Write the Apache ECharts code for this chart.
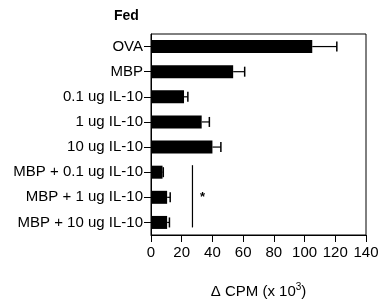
<!DOCTYPE html>
<html>
<head>
<meta charset="utf-8">
<script src="https://cdn.jsdelivr.net/npm/echarts@6/dist/echarts.min.js"></script>
<style>
  html, body { margin: 0; padding: 0; background: #fff; }
  #chart { width: 381px; height: 303px; }
</style>
</head>
<body>
<div id="chart"></div>
<script>
const categories = ['OVA', 'MBP', '0.1 ug IL-10', '1 ug IL-10', '10 ug IL-10',
  'MBP + 0.1 ug IL-10', 'MBP + 1 ug IL-10', 'MBP + 10 ug IL-10'];
const means = [105, 53.5, 21.5, 33, 40, 7.5, 10.5, 10.5];
const errors = [16, 7.5, 2.5, 5, 5.5, 0.5, 2, 1.5];
const xTicks = [0, 140, 20];
// significance bracket: x value, first and last category
const sigLine = [27, 'MBP + 0.1 ug IL-10', 'MBP + 10 ug IL-10'];

const font = 'Liberation Sans, Arial, sans-serif';
const chart = echarts.init(document.getElementById('chart'));

chart.setOption({
  animation: false,
  title: {
    text: 'Fed',
    left: 114,
    top: 9,
    padding: 0,
    textStyle: { fontFamily: font, fontSize: 14, fontWeight: 'bold', color: '#000' }
  },
  grid: {
    left: 151, right: 15, top: 34, bottom: 68,
    outerBoundsMode: 'none',
    show: true, borderColor: '#000', borderWidth: 1, backgroundColor: 'transparent'
  },
  xAxis: {
    type: 'value',
    min: xTicks[0], max: xTicks[1], interval: xTicks[2],
    splitLine: { show: false },
    axisLine: { show: true, lineStyle: { color: '#000', width: 1 } },
    axisTick: { show: true, length: 7, lineStyle: { color: '#000' } },
    axisLabel: { color: '#000', fontFamily: font, fontSize: 15, margin: 10 },
    name: '{a|Δ CPM (x 10}{s|3}{a|)}',
    nameLocation: 'middle',
    nameGap: 47,
    nameTextStyle: {
      rich: {
        a: { fontFamily: font, fontSize: 15, color: '#000' },
        s: { fontFamily: font, fontSize: 10, color: '#000', verticalAlign: 'top', padding: [0, 0, 9, 0] }
      }
    }
  },
  yAxis: {
    type: 'category',
    data: categories,
    inverse: true,
    axisLine: { show: true, lineStyle: { color: '#000', width: 1 } },
    axisTick: { show: true, alignWithLabel: true, length: 7, lineStyle: { color: '#000' } },
    axisLabel: { color: '#000', fontFamily: font, fontSize: 15, margin: 8 }
  },
  series: [
    {
      type: 'bar',
      data: means,
      barWidth: 13,
      itemStyle: { color: '#000' }
    },
    {
      type: 'custom',
      data: means.map((m, i) => [m, i, m + errors[i]]),
      renderItem: (params, api) => {
        const start = api.coord([api.value(0), api.value(1)]);
        const end = api.coord([api.value(2), api.value(1)]);
        const cap = 5;
        return {
          type: 'group',
          children: [
            { type: 'line', shape: { x1: start[0], y1: start[1], x2: end[0], y2: end[1] },
              style: { stroke: '#000', lineWidth: 1.2 } },
            { type: 'line', shape: { x1: end[0], y1: end[1] - cap, x2: end[0], y2: end[1] + cap },
              style: { stroke: '#000', lineWidth: 1.5 } }
          ]
        };
      },
      z: 3
    },
    {
      type: 'custom',
      data: [[sigLine[0], categories.indexOf(sigLine[1]), categories.indexOf(sigLine[2])]],
      renderItem: (params, api) => {
        const top = api.coord([api.value(0), api.value(1)]);
        const bot = api.coord([api.value(0), api.value(2)]);
        const midY = (top[1] + bot[1]) / 2;
        return {
          type: 'group',
          children: [
            { type: 'line', shape: { x1: top[0], y1: top[1] - 7, x2: bot[0], y2: bot[1] + 5 },
              style: { stroke: '#000', lineWidth: 1.2 } },
            { type: 'text', x: top[0] + 10, y: midY,
              style: { text: '*', fill: '#000', fontFamily: font, fontSize: 13, fontWeight: 'bold', align: 'center', verticalAlign: 'middle' } }
          ]
        };
      }
    }
  ]
});
</script>
</body>
</html>
